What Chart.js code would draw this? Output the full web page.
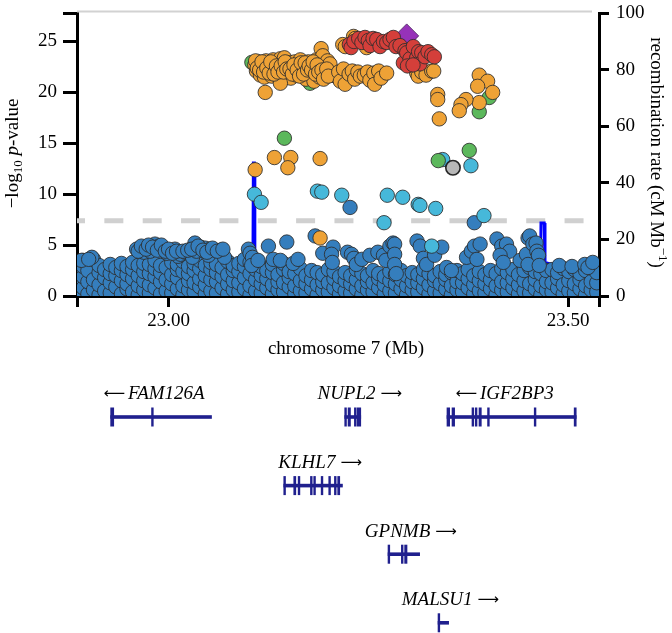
<!DOCTYPE html>
<html>
<head>
<meta charset="utf-8">
<script src="https://cdn.jsdelivr.net/npm/chart.js@4.4.1/dist/chart.umd.min.js"></script>
<style>
  html, body { margin: 0; padding: 0; background: #ffffff; }
  canvas { display: block; }
</style>
</head>
<body>
<canvas id="c" width="672" height="633"></canvas>
<script>
// ---------------- data ----------------
const xMin = 22.8854, xMax = 23.5388;
const xTickVals = [22.8854, 23.0, 23.5, 23.5388];
const xTickLabels = ['', '23.00', '23.50', ''];
const yTickVals = [0, 5, 10, 15, 20, 25, 27.8];
const yTickLabels = ['0', '5', '10', '15', '20', '25', ''];
const y2TickVals = [0, 20, 40, 60, 80, 100];
const y2TickLabels = ['0', '20', '40', '60', '80', '100'];
const sigThreshold = 7.4;

// r2 < 0.2 (dark blue)
const snpBlue = [
  [22.887,0.3],[22.887,1.2],[22.887,2.2],[22.887,3.4],[22.893,0.8],[22.893,1.9],[22.893,2.9],[22.893,3.5],
  [22.899,0.2],[22.899,1.4],[22.899,2.5],[22.906,0.6],[22.906,1.6],[22.906,3.6],[22.913,0.1],[22.913,1.1],
  [22.913,2.3],[22.913,3.0],[22.920,0.5],[22.920,1.8],[22.920,2.6],[22.927,0.3],[22.927,1.3],[22.927,2.2],
  [22.927,3.1],[22.934,0.9],[22.934,2.0],[22.934,2.8],[22.941,0.2],[22.941,1.5],[22.941,2.5],[22.941,3.2],
  [22.948,0.7],[22.948,1.2],[22.948,2.1],[22.948,2.9],[22.955,0.4],[22.955,1.7],[22.955,2.6],[22.955,3.3],
  [22.962,0.1],[22.962,1.0],[22.962,2.0],[22.962,3.0],[22.969,0.6],[22.969,1.5],[22.969,2.4],[22.969,3.2],
  [22.976,0.3],[22.976,1.1],[22.976,2.2],[22.976,3.1],[22.983,0.8],[22.983,1.9],[22.983,2.7],[22.983,3.5],
  [22.990,0.2],[22.990,1.4],[22.990,2.3],[22.990,3.0],[22.997,0.5],[22.997,1.6],[22.997,2.8],[23.004,0.3],
  [23.004,1.2],[23.004,2.1],[23.004,3.3],[23.011,0.7],[23.011,1.8],[23.011,2.6],[23.011,3.1],[23.018,0.1],
  [23.018,1.0],[23.018,2.4],[23.018,3.4],[23.025,0.6],[23.025,1.5],[23.025,2.2],[23.025,2.9],[23.032,0.4],
  [23.032,1.3],[23.032,2.5],[23.032,3.2],[23.039,0.9],[23.039,1.7],[23.039,2.7],[23.039,3.5],[23.046,0.2],
  [23.046,1.1],[23.046,2.0],[23.046,3.0],[23.053,0.5],[23.053,1.6],[23.053,2.6],[23.053,3.3],[23.060,0.3],
  [23.060,1.4],[23.060,2.3],[23.060,3.1],[23.067,0.8],[23.067,1.9],[23.067,2.8],[23.074,0.2],[23.074,1.2],
  [23.074,2.1],[23.074,3.4],[23.081,0.6],[23.081,1.5],[23.081,2.5],[23.081,3.0],[23.088,0.4],[23.088,1.3],
  [23.088,2.4],[23.088,3.2],[23.095,0.7],[23.095,1.8],[23.095,2.9],[23.095,3.6],[23.102,0.1],[23.102,1.0],
  [23.102,2.2],[23.102,3.3],[23.109,0.5],[23.109,1.6],[23.109,2.6],[23.116,0.3],[23.116,1.2],[23.116,2.0],
  [23.116,2.9],[23.123,0.8],[23.123,1.7],[23.123,2.5],[23.130,0.2],[23.130,1.1],[23.130,2.3],[23.130,3.1],
  [23.137,0.6],[23.137,1.4],[23.137,2.1],[23.144,0.4],[23.144,1.3],[23.144,2.6],[23.144,3.2],[23.151,0.9],
  [23.151,1.8],[23.151,2.4],[23.158,0.2],[23.158,1.0],[23.158,2.2],[23.165,0.5],[23.165,1.5],[23.165,2.7],
  [23.172,0.3],[23.172,1.2],[23.172,2.0],[23.179,0.7],[23.179,1.6],[23.179,2.5],[23.186,0.1],[23.186,1.1],
  [23.186,2.3],[23.193,0.6],[23.193,1.4],[23.193,2.1],[23.200,0.4],[23.200,1.3],[23.200,2.6],[23.207,0.8],
  [23.207,1.7],[23.207,2.4],[23.214,0.2],[23.214,1.0],[23.214,1.9],[23.221,0.5],[23.221,1.5],[23.221,2.3],
  [23.228,0.3],[23.228,1.2],[23.228,2.0],[23.235,0.7],[23.235,1.6],[23.235,2.6],[23.242,0.1],[23.242,1.0],
  [23.242,2.2],[23.249,0.6],[23.249,1.4],[23.249,2.0],[23.256,0.4],[23.256,1.3],[23.256,2.5],[23.263,0.8],
  [23.263,1.7],[23.263,2.2],[23.270,0.2],[23.270,1.1],[23.270,1.9],[23.277,0.5],[23.277,1.5],[23.277,2.4],
  [23.284,0.3],[23.284,1.2],[23.284,2.1],[23.291,0.7],[23.291,1.6],[23.291,2.5],[23.298,0.1],[23.298,1.0],
  [23.298,2.0],[23.305,0.6],[23.305,1.4],[23.305,2.3],[23.312,0.4],[23.312,1.3],[23.312,2.1],[23.319,0.8],
  [23.319,1.7],[23.319,2.6],[23.326,0.2],[23.326,1.1],[23.326,2.2],[23.333,0.5],[23.333,1.5],[23.333,2.0],
  [23.340,0.3],[23.340,1.2],[23.340,2.4],[23.347,0.7],[23.347,1.6],[23.347,2.1],[23.354,0.1],[23.354,1.0],
  [23.354,2.3],[23.361,0.6],[23.361,1.4],[23.361,2.5],[23.368,0.4],[23.368,1.3],[23.368,2.2],[23.375,0.8],
  [23.375,1.7],[23.375,2.6],[23.382,0.2],[23.382,1.1],[23.382,2.0],[23.389,0.5],[23.389,1.5],[23.389,2.4],
  [23.396,0.3],[23.396,1.2],[23.396,2.1],[23.403,0.7],[23.403,1.6],[23.403,2.5],[23.410,0.1],[23.410,1.0],
  [23.410,2.2],[23.417,0.6],[23.417,1.4],[23.417,2.7],[23.424,0.4],[23.424,1.3],[23.424,2.3],[23.431,0.8],
  [23.431,1.7],[23.431,2.6],[23.438,0.2],[23.438,1.1],[23.438,2.1],[23.445,0.5],[23.445,1.5],[23.445,2.5],
  [23.452,0.3],[23.452,1.2],[23.452,2.8],[23.459,0.7],[23.459,1.6],[23.459,2.4],[23.466,0.1],[23.466,1.0],
  [23.466,2.2],[23.473,0.6],[23.473,1.4],[23.473,2.5],[23.480,0.4],[23.480,1.3],[23.480,2.6],[23.487,0.8],
  [23.487,1.7],[23.487,2.3],[23.494,0.2],[23.494,1.1],[23.494,2.7],[23.501,0.5],[23.501,1.5],[23.501,2.4],
  [23.508,0.3],[23.508,1.2],[23.508,2.6],[23.515,0.7],[23.515,1.6],[23.515,2.2],[23.522,0.1],[23.522,1.0],
  [23.522,2.5],[23.529,0.6],[23.529,1.4],[23.529,2.8],[23.536,0.4],[23.536,1.3],[23.536,2.3],
  // upper scattered points
  [22.891,3.5],[22.904,3.8],[22.900,3.6],
  [22.960,4.6],[22.969,4.3],[22.977,4.4],[22.983,5.1],[22.988,4.9],[22.993,4.7],[22.998,4.2],[23.002,4.4],
  [23.008,4.6],[23.012,3.9],[23.015,4.1],[23.021,4.3],[23.027,4.2],[23.030,3.8],[23.033,5.2],[23.035,4.4],
  [23.040,4.8],[23.046,4.7],[23.050,4.0],[23.052,4.6],[23.058,4.5],[23.065,4.5],[23.070,3.8],
  [22.962,4.4],[22.966,4.9],[22.972,4.6],[22.975,5.0],[22.980,4.8],[22.986,4.5],[22.991,5.0],[22.996,4.4],
  [23.000,4.6],[23.005,4.2],[23.010,4.4],[23.018,4.4],[23.024,4.5],[23.029,4.6],[23.037,4.9],[23.043,4.5],
  [23.048,4.3],[23.055,4.7],[23.061,4.4],[23.068,4.6],
  [23.100,4.6],[23.102,4.2],[23.105,3.8],[23.104,3.0],[23.112,3.5],[23.125,4.9],[23.131,3.6],[23.140,3.5],
  [23.148,5.3],[23.156,3.2],[23.162,3.6],
  [23.1835,5.9],[23.193,4.2],[23.206,4.8],[23.204,4.1],[23.205,3.3],
  [23.2272,8.7],
  [23.224,4.3],[23.229,4.1],[23.232,3.7],[23.235,3.1],[23.242,3.6],[23.252,4.0],[23.262,4.3],[23.269,4.0],[23.272,3.5],
  [23.277,4.9],[23.281,5.2],[23.283,5.1],[23.283,4.1],[23.283,3.1],[23.285,2.2],
  [23.311,5.4],[23.315,4.9],[23.319,3.7],[23.323,3.1],[23.333,4.0],[23.342,4.8],[23.348,2.8],[23.354,2.5],
  [23.373,3.8],[23.379,4.4],[23.383,4.9],[23.386,3.6],[23.390,5.1],
  [23.3827,7.2],
  [23.411,5.6],[23.417,4.9],[23.423,5.1],[23.427,4.4],[23.415,4.0],[23.419,3.3],
  [23.440,3.5],[23.448,4.1],[23.450,5.7],[23.450,3.1],[23.452,5.9],[23.456,5.1],[23.460,5.2],[23.461,4.4],
  [23.463,4.0],[23.464,3.0],
  [23.489,3.0],[23.505,2.9],[23.521,3.1],[23.525,2.8],[23.531,3.3],
  [23.2093,21.6]
];

// 0.2 <= r2 < 0.4 (light blue)
const snpLightBlue = [
  [23.1075,10.0],[23.1159,9.2],[23.1863,10.3],[23.1918,10.2],[23.2168,9.9],[23.2738,9.9],[23.2931,9.7],
  [23.3125,9.0],[23.3147,8.9],[23.3344,8.6],[23.2697,7.2],[23.3948,7.9],[23.3431,13.4],[23.3785,12.8],
  [23.3294,4.9]
];

// 0.4 <= r2 < 0.6 (green)
const snpGreen = [
  [23.1043,22.95],[23.1772,20.9],[23.1450,15.5],[23.3376,13.3],[23.3764,14.3],[23.3889,18.1],[23.4014,19.5]
];

// 0.6 <= r2 < 0.8 (orange)
const snpOrange = [
  [23.108,22.7],[23.110,22.1],[23.113,23.0],[23.115,21.7],[23.118,22.5],[23.120,21.5],[23.122,23.1],
  [23.124,22.0],[23.127,22.7],[23.129,21.6],[23.131,23.2],[23.133,22.3],[23.136,22.9],[23.138,21.5],
  [23.140,23.3],[23.142,22.1],[23.145,23.4],[23.147,22.6],[23.149,21.8],[23.151,22.9],[23.153,21.4],
  [23.156,22.4],[23.158,23.0],[23.160,21.7],[23.162,22.8],[23.165,23.2],[23.167,22.2],[23.170,22.5],
  [23.172,21.3],[23.175,23.0],[23.177,21.9],[23.180,22.7],[23.182,21.1],[23.185,23.2],[23.187,22.3],
  [23.189,21.5],[23.191,24.3],[23.193,23.6],[23.195,22.6],[23.197,21.9],[23.199,23.1],[23.202,22.8],
  [23.204,21.7],[23.121,20.0],[23.140,20.9],
  [23.109,23.1],[23.111,22.4],[23.114,22.2],[23.117,23.0],[23.119,22.0],[23.123,22.4],[23.126,21.9],
  [23.128,23.0],[23.132,21.8],[23.135,22.6],[23.137,22.0],[23.141,22.6],[23.144,22.0],[23.146,23.0],
  [23.148,22.3],[23.152,22.3],[23.155,21.8],[23.157,22.7],[23.161,22.2],[23.164,21.6],[23.166,22.9],
  [23.169,21.8],[23.171,22.9],[23.174,22.2],[23.176,22.6],[23.179,22.2],[23.181,23.0],[23.184,21.8],
  [23.186,22.7],[23.188,22.0],[23.192,22.2],[23.194,21.3],[23.198,22.3],[23.200,21.6],
  [23.213,22.0],[23.215,21.1],[23.219,22.3],[23.221,20.8],[23.226,21.8],[23.230,22.1],[23.233,21.3],
  [23.237,22.0],[23.240,21.6],[23.245,21.7],[23.249,22.0],[23.252,21.2],[23.257,21.9],[23.258,20.8],
  [23.263,22.1],[23.266,21.4],[23.273,21.9],
  [23.2180,24.7],[23.2212,24.5],[23.2316,25.5],[23.2337,25.3],[23.2479,24.4],
  [23.3106,21.9],[23.3125,21.6],[23.3169,22.0],[23.3223,21.7],[23.3294,22.1],[23.3319,22.1],
  [23.1084,12.4],[23.1325,13.6],[23.1530,13.6],[23.1493,12.6],[23.1897,13.5],[23.1897,5.7],
  [23.3369,19.8],[23.3369,19.3],[23.3389,17.4],[23.3889,21.7],[23.3994,21.1],[23.3869,20.6],
  [23.4057,20.0],[23.3889,19.0],[23.3723,19.3],[23.3660,18.8],[23.3639,18.2]
];

// r2 >= 0.8 (red)
const snpRed = [
  [23.2263,24.7],[23.2285,24.4],[23.2320,25.0],[23.2380,25.3],[23.2420,24.9],[23.2459,25.4],[23.2500,25.1],
  [23.2522,24.6],[23.2560,25.3],[23.2606,25.2],[23.2647,24.5],[23.2690,25.0],[23.2731,24.9],[23.2772,25.2],
  [23.2814,25.4],[23.2847,24.5],[23.2897,24.6],[23.2939,22.9],[23.2960,24.1],[23.2981,23.9],[23.3022,23.3],
  [23.3064,24.5],[23.3106,23.4],[23.3130,24.0],[23.3169,23.9],[23.3147,22.8],[23.3210,23.5],[23.3248,24.0],
  [23.3294,23.7],[23.3327,23.5],[23.2990,22.6],[23.3060,22.7]
];

// no LD information (grey)
const snpGrey = [[23.3560,12.6]];

// lead SNP
const snpLead = [[23.2981,25.55]];

// recombination rate (cM/Mb)
const recombPos  = [22.8854,22.92,22.95,22.99,23.03,23.07,23.1055,23.1062,23.1074,23.1080,23.125,23.1462,23.1470,23.1478,
                    23.18,23.23,23.28,23.33,23.38,23.43,23.4655,23.4662,23.4702,23.4712,23.50,23.5388];
const recombRate = [1.0,1.6,0.8,1.2,2.0,1.4,1.8,47.0,47.0,2.2,1.3,1.5,7.0,1.6,
                    0.9,1.2,2.3,1.1,1.7,2.5,3.1,25.8,25.8,11.9,9.5,8.0];

// genes
const geneNames  = ['FAM126A', 'NUPL2', 'IGF2BP3', 'KLHL7', 'GPNMB', 'MALSU1'];
const geneStrand = ['-', '+', '-', '+', '+', '+'];
const geneRow    = [0, 0, 0, 1, 2, 3];
const geneStart  = [22.9271, 23.2201, 23.3481, 23.1438, 23.2743, 23.3369];
const geneEnd    = [23.0542, 23.2410, 23.5107, 23.2181, 23.3147, 23.3510];
const geneExons  = [
  [[22.9271,22.9318],[22.9783,22.9812]],
  [[23.2201,23.2231],[23.2243,23.2281],[23.2322,23.2343],[23.2356,23.2410]],
  [[23.3481,23.3523],[23.3544,23.3585],[23.3794,23.3823],[23.3835,23.3864],[23.3882,23.3919],
   [23.3989,23.4014],[23.4573,23.4594],[23.5073,23.5107]],
  [[23.1438,23.1468],[23.1563,23.1597],[23.1618,23.1647],[23.1772,23.1800],[23.1813,23.1834],
   [23.1906,23.1931],[23.2001,23.2031],[23.2072,23.2097],[23.2113,23.2147]],
  [[23.2743,23.2772],[23.2910,23.2939],[23.2951,23.2989]],
  [[23.3369,23.3398]]
];

// ---------------- chart ----------------
const SERIF = '"Liberation Serif", "Times New Roman", serif';
const tickFont = { family: SERIF, size: 19 };
const toPts = arr => arr.map(([x, y]) => ({ x, y }));
const SNP_BORDER = 'rgba(45,45,45,0.85)';
const R = 7.2;
function snpSet(data, fill, extra) {
  return Object.assign({
    type: 'scatter', data: toPts(data), yAxisID: 'y',
    backgroundColor: fill, borderColor: SNP_BORDER, borderWidth: 1,
    pointRadius: R, pointHoverRadius: R
  }, extra || {});
}

const decor = {
  id: 'decor',
  afterDraw(chart) {
    const { ctx, chartArea: a } = chart;
    const x = chart.scales.x;
    ctx.save();
    // light grey line on top
    ctx.strokeStyle = '#d2d2d2';
    ctx.lineWidth = 2;
    ctx.beginPath();
    ctx.moveTo(a.left, a.top - 1.5);
    ctx.lineTo(a.right - 7, a.top - 1.5);
    ctx.stroke();

    ctx.fillStyle = '#000';
    ctx.textBaseline = 'alphabetic';
    // x title
    ctx.font = '19px ' + SERIF;
    ctx.textAlign = 'center';
    ctx.fillText('chromosome 7 (Mb)', (a.left + a.right) / 2 + 8, 354);

    function drawSegs(segs) {
      let total = 0;
      segs.forEach(s => { ctx.font = s[1]; total += ctx.measureText(s[0]).width; });
      let pos = -total / 2;
      ctx.textAlign = 'left';
      segs.forEach(s => { ctx.font = s[1]; ctx.fillText(s[0], pos, s[2]); pos += ctx.measureText(s[0]).width; });
    }
    // left title
    ctx.save();
    ctx.translate(17.5, (a.top + a.bottom) / 2 - 1);
    ctx.rotate(-Math.PI / 2);
    drawSegs([
      ['\u2212log', '19px ' + SERIF, 0],
      ['10', '13px ' + SERIF, 4],
      [' ', '19px ' + SERIF, 0],
      ['p', 'italic 19px ' + SERIF, 0],
      ['-value', '19px ' + SERIF, 0]
    ]);
    ctx.restore();
    // right title
    ctx.save();
    ctx.translate(651, (a.top + a.bottom) / 2 - 2);
    ctx.rotate(Math.PI / 2);
    drawSegs([
      ['recombination rate (cM Mb', '19px ' + SERIF, 0],
      ['\u22121', '13px ' + SERIF, -8],
      [')', '19px ' + SERIF, 0]
    ]);
    ctx.restore();

    // genes
    const GENE = '#20208e';
    const rowY = r => 417 + r * 68.6;
    const nameFont = 'italic 19px ' + SERIF;
    const arrFont = '15px "DejaVu Sans"';
    geneNames.forEach((name, i) => {
      const y = rowY(geneRow[i]);
      const x0 = x.getPixelForValue(geneStart[i]);
      const x1 = x.getPixelForValue(geneEnd[i]);
      ctx.fillStyle = GENE;
      ctx.fillRect(x0, y - 1.8, x1 - x0, 3.6);
      geneExons[i].forEach(([s, e]) => {
        const p0 = x.getPixelForValue(s);
        const p1 = Math.max(x.getPixelForValue(e), p0 + 2.4);
        ctx.fillRect(p0, y - 9.5, p1 - p0, 19);
      });
      // label with strand arrow
      const fwd = geneStrand[i] === '+';
      const arrow = fwd ? '\u27F6' : '\u27F5';
      const gap = fwd ? 5 : 3;
      ctx.font = nameFont; const wn = ctx.measureText(name).width;
      ctx.font = arrFont; const wa = ctx.measureText(arrow).width;
      const cx = (x0 + x1) / 2 + (fwd ? 7 : -7);
      const pos = cx - (wn + wa + gap) / 2;
      const by = y - 17.7;
      ctx.fillStyle = '#000';
      ctx.textAlign = 'left';
      if (fwd) {
        ctx.font = nameFont; ctx.fillText(name, pos, by);
        ctx.font = arrFont; ctx.fillText(arrow, pos + wn + gap, by - 1);
      } else {
        ctx.font = arrFont; ctx.fillText(arrow, pos, by - 1);
        ctx.font = nameFont; ctx.fillText(name, pos + wa + gap, by);
      }
    });
    ctx.restore();
  }
};

new Chart(document.getElementById('c'), {
  type: 'scatter',
  data: {
    datasets: [
      snpSet(snpRed, '#d43f3a'),
      snpSet(snpLead, '#9632b8', { pointStyle: 'rectRot', pointRadius: 12, pointHoverRadius: 12, borderColor: 'rgba(70,30,90,0.8)' }),
      snpSet(snpOrange, '#eea236'),
      snpSet(snpGreen, '#5cb85c'),
      snpSet(snpGrey, '#b8b8b8', { borderColor: 'rgba(30,30,30,0.95)', borderWidth: 1.6 }),
      snpSet(snpLightBlue, '#46b8da'),
      snpSet(snpBlue, '#357ebd'),
      {
        type: 'line', yAxisID: 'y2',
        data: recombPos.map((p, i) => ({ x: p, y: recombRate[i] })),
        borderColor: '#0000ff', borderWidth: 3, pointRadius: 0, tension: 0, fill: false
      },
      {
        type: 'line', yAxisID: 'y',
        data: [{ x: xMin, y: sigThreshold }, { x: xMax, y: sigThreshold }],
        borderColor: '#d0d0d0', borderWidth: 5, borderDash: [19, 19.35], borderDashOffset: 11,
        pointRadius: 0, fill: false
      }
    ]
  },
  options: {
    responsive: false,
    animation: false,
    events: [],
    devicePixelRatio: 1,
    layout: { padding: { left: 0, right: 0, top: 10, bottom: 297 } },
    plugins: { legend: { display: false }, tooltip: { enabled: false } },
    scales: {
      x: {
        type: 'linear', position: 'bottom', min: xMin, max: xMax,
        afterBuildTicks: s => { s.ticks = xTickVals.map(v => ({ value: v })); },
        afterFit: s => { s.height = 40; s.paddingLeft = 0; s.paddingRight = 0; },
        ticks: { autoSkip: false, maxRotation: 0, minRotation: 0, padding: 3, color: '#000', font: tickFont,
                 callback: (v, i) => xTickLabels[i] },
        grid: { display: true, drawOnChartArea: false, drawTicks: true, tickLength: 11, tickWidth: 3,
                tickColor: '#000', color: '#000', lineWidth: 3 },
        border: { display: true, color: '#000', width: 3 }
      },
      y: {
        type: 'linear', position: 'left', min: 0, max: 27.8,
        afterBuildTicks: s => { s.ticks = yTickVals.map(v => ({ value: v })); },
        afterFit: s => { s.width = 77; s.paddingTop = 0; s.paddingBottom = 0; },
        ticks: { autoSkip: false, padding: 6, color: '#000', font: tickFont, callback: (v, i) => yTickLabels[i] },
        grid: { display: true, drawOnChartArea: false, drawTicks: true, tickLength: 14, tickWidth: 3,
                tickColor: '#000', color: '#000', lineWidth: 3 },
        border: { display: true, color: '#000', width: 3 }
      },
      y2: {
        type: 'linear', position: 'right', min: 0, max: 100,
        afterBuildTicks: s => { s.ticks = y2TickVals.map(v => ({ value: v })); },
        afterFit: s => { s.width = 73; s.paddingTop = 0; s.paddingBottom = 0; },
        ticks: { autoSkip: false, padding: 7, color: '#000', font: tickFont, callback: (v, i) => y2TickLabels[i] },
        grid: { display: true, drawOnChartArea: false, drawTicks: true, tickLength: 10, tickWidth: 3,
                tickColor: '#000', color: '#000', lineWidth: 3 },
        border: { display: true, color: '#000', width: 3 }
      }
    }
  },
  plugins: [decor]
});
</script>
</body>
</html>
